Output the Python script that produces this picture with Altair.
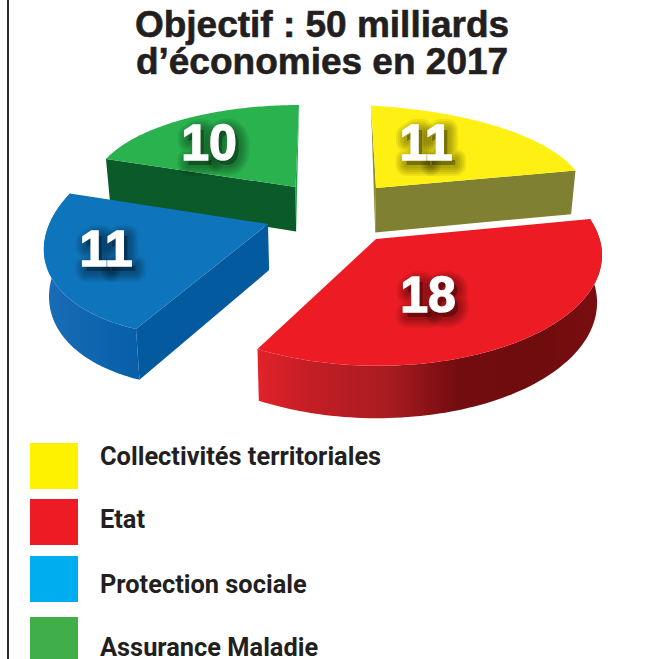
import math

import altair as alt
import numpy as np
import pandas as pd

W, H = 646, 659

# Savings per contributor, in billions of euros
categories = ["Collectivités territoriales", "Etat", "Protection sociale", "Assurance Maladie"]
values = [11, 18, 11, 10]
value_labels = ["11", "18", "11", "10"]
legend_colors = ["#fff200", "#ed1c24", "#00aeef", "#40ae49"]
title_lines = ["Objectif : 50 milliards", "d’économies en 2017"]

# Projection of each exploded slice: apex, the two rim ends and the rim midpoint on the page
slice_frames = {
    "Assurance Maladie": dict(apex=(295.5, 187), start=(299, 105), end=(106, 159), mid=(181, 120)),
    "Collectivités territoriales": dict(apex=(376, 188), start=(371, 105.5), end=(575.5, 170.5), mid=(502, 128)),
    "Etat": dict(apex=(376, 239), start=(590, 219), end=(257.5, 349), mid=(527, 338)),
    "Protection sociale": dict(apex=(268, 224), start=(70, 193.5), end=(136, 329), mid=(50, 275)),
}
red_wall = alt.LinearGradient(
    gradient="linear", x1=0, x2=1, y1=0, y2=0,
    stops=[
        alt.GradientStop(color="#e2222a", offset=0),
        alt.GradientStop(color="#c41e25", offset=0.15),
        alt.GradientStop(color="#a81c20", offset=0.38),
        alt.GradientStop(color="#730c10", offset=0.58),
        alt.GradientStop(color="#6e0c0e", offset=0.8),
        alt.GradientStop(color="#7a0e10", offset=1),
    ],
)
blue_wall = alt.LinearGradient(
    gradient="linear", x1=0, x2=1, y1=0, y2=0,
    stops=[
        alt.GradientStop(color="#1a6cb6", offset=0),
        alt.GradientStop(color="#065fa8", offset=1),
    ],
)
slice_styles = {
    "Assurance Maladie": dict(top="#2ab24f", side="#0a5a2a", sliver="#1ca24a", rim=None),
    "Collectivités territoriales": dict(top="#fff014", side="#808032", sliver="#8c8c30", rim=None),
    "Etat": dict(top="#ed1c24", side=None, sliver=None, rim=red_wall),
    "Protection sociale": dict(top="#0e75bc", side="#045a9e", sliver=None, rim=blue_wall),
}
paint_order = ["Assurance Maladie", "Collectivités territoriales", "Etat", "Protection sociale"]

x_scale = alt.Scale(domain=[0, W], nice=False, zero=False)
y_scale = alt.Scale(domain=[H, 0], nice=False, zero=False)
x_enc = alt.X("x:Q", scale=x_scale, axis=None)
y_enc = alt.Y("y:Q", scale=y_scale, axis=None)


def homography(src, dst):
    rows, rhs = [], []
    for (u, v), (x, y) in zip(src, dst):
        rows.append([u, v, 1, 0, 0, 0, -u * x, -v * x])
        rows.append([0, 0, 0, u, v, 1, -u * y, -v * y])
        rhs += [x, y]
    h = np.linalg.solve(np.array(rows, float), np.array(rhs, float))
    return np.append(h, 1).reshape(3, 3)


def apply(m, u, v):
    x, y, w = m @ np.array([u, v, 1.0])
    return x / w, y / w


def drop(p):
    # Foot of the pie's thickness below a point on the upper face
    x, y = p
    return x - 0.018 * (x - 330), y + 36 + 0.045 * y


def polygon(points, fill):
    frame = pd.DataFrame(points, columns=["x", "y"])
    frame["i"] = range(len(frame))
    return (
        alt.Chart(frame)
        .mark_line(fill=fill, strokeWidth=0, strokeOpacity=0, interpolate="linear-closed")
        .encode(x=x_enc, y=y_enc, order="i:Q")
    )


total = sum(values)
layers = []
for name in paint_order:
    share = values[categories.index(name)] / total
    sweep = 2 * math.pi * share
    f = slice_frames[name]
    s = slice_styles[name]
    m = homography(
        [(0, 0), (1, 0), (math.cos(sweep), math.sin(sweep)), (math.cos(sweep / 2), math.sin(sweep / 2))],
        [f["apex"], f["start"], f["end"], f["mid"]],
    )
    rim = [apply(m, math.cos(a), math.sin(a)) for a in np.linspace(0, sweep, 90)]
    apex = f["apex"]
    if s["rim"] is not None:
        layers.append(polygon(rim + [drop(p) for p in reversed(rim)], s["rim"]))
    if s["side"] is not None:
        layers.append(polygon([apex, rim[-1], drop(rim[-1]), drop(apex)], s["side"]))
    if s["sliver"] is not None:
        layers.append(polygon([rim[0], apex, drop(apex)], s["sliver"]))
    layers.append(polygon([apex] + rim, s["top"]))

# Value labels with a soft drop shadow built from widening translucent strokes
label_spots = {
    "Assurance Maladie": (209, 160),
    "Collectivités territoriales": (426, 160),
    "Etat": (428, 312),
    "Protection sociale": (106, 266),
}
label_df = pd.DataFrame(
    {
        "x": [label_spots[c][0] for c in categories],
        "y": [label_spots[c][1] for c in categories],
        "label": value_labels,
    }
)
label_font = dict(font="Liberation Sans", fontWeight="bold", fontSize=50, align="center", baseline="alphabetic")
label_base = alt.Chart(label_df).encode(x=x_enc, y=y_enc, text="label:N")
for w in (22, 18, 14, 10, 6):
    layers.append(
        label_base.mark_text(
            fill="#000000", fillOpacity=0.07, stroke="#000000", strokeOpacity=0.07,
            strokeWidth=w, strokeJoin="round", dx=4, dy=5, **label_font,
        )
    )
layers.append(label_base.mark_text(fill="#ffffff", stroke="#ffffff", strokeWidth=1.4, **label_font))

# Chart heading
title_df = pd.DataFrame({"x": [322, 322], "y": [37, 74], "line": title_lines})
layers.append(
    alt.Chart(title_df)
    .mark_text(
        font="Liberation Sans", fontWeight="bold", fontSize=37, color="#231f20",
        stroke="#231f20", strokeWidth=0.6, align="center", baseline="alphabetic",
    )
    .encode(x=x_enc, y=y_enc, text="line:N")
)

# Hand-placed legend
legend_tops = [443, 499, 556, 617]
legend_baselines = [465, 528, 593, 656]
legend_df = pd.DataFrame(
    {
        "name": categories,
        "color": legend_colors,
        "x": [30] * 4,
        "x2": [78] * 4,
        "y": legend_tops,
        "y2": [t + 46 for t in legend_tops],
        "tx": [100] * 4,
        "ty": legend_baselines,
    }
)
layers.append(
    alt.Chart(legend_df)
    .mark_rect()
    .encode(x=x_enc, x2="x2:Q", y=y_enc, y2="y2:Q", color=alt.Color("color:N", scale=None))
)
layers.append(
    alt.Chart(legend_df)
    .mark_text(font="Roboto", fontWeight="bold", fontSize=25.4, color="#231f20", align="left", baseline="alphabetic")
    .encode(x=alt.X("tx:Q", scale=x_scale, axis=None), y=alt.Y("ty:Q", scale=y_scale, axis=None), text="name:N")
)

# Page frame line on the left
layers.append(
    alt.Chart(pd.DataFrame({"a": [0]}))
    .mark_rule(color="#2b2829", strokeWidth=2)
    .encode(x=alt.value(8), y=alt.value(0), y2=alt.value(H))
)

chart = (
    alt.layer(*layers)
    .properties(width=W, height=H, padding=0, autosize=alt.AutoSizeParams(type="none"))
    .configure_view(stroke=None)
)
chart.save("out.html", embed_options={"renderer": "svg", "actions": False})
